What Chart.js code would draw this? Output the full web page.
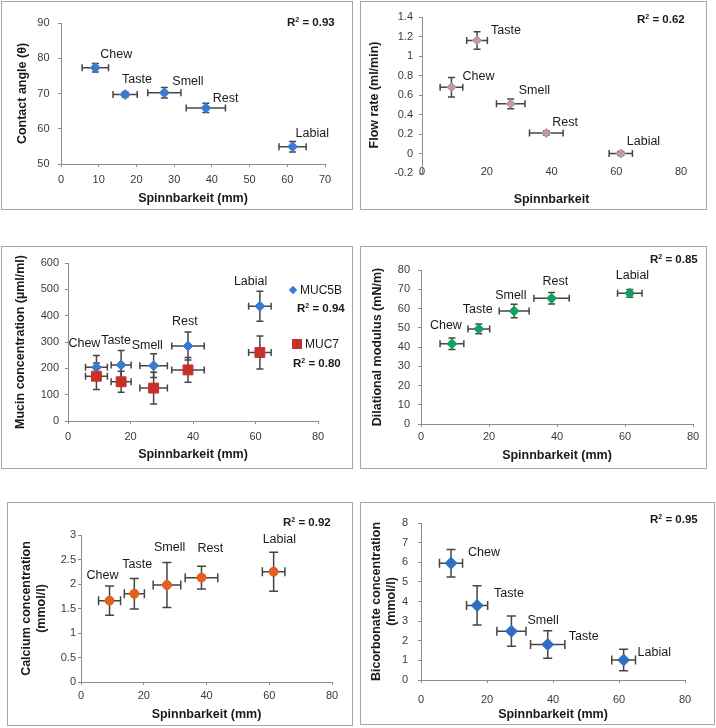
<!DOCTYPE html>
<html>
<head>
<meta charset="utf-8">
<script src="https://cdn.jsdelivr.net/npm/chart.js@4.4.0/dist/chart.umd.min.js"></script>
<style>
  body { margin: 0; background: #fff; font-family: "Liberation Sans", Arial, sans-serif; }
  #page { position: relative; width: 716px; height: 728px; overflow: hidden; }
  .panel { position: absolute; border: 1px solid #a6a6a6; box-sizing: border-box; }
  .panel canvas { position: absolute; left: 0; top: 0; }
  .note { position: absolute; font-weight: bold; font-size: 11.5px; line-height: 14px; color: #1a1a1a; white-space: nowrap; }
  .note sup { font-size: 7px; line-height: 0; vertical-align: 4px; }
  .leg { position: absolute; font-size: 12px; line-height: 14px; color: #1a1a1a; white-space: nowrap; }
  .mark { position: absolute; }
</style>
</head>
<body>
<div id="page"></div>
<script>
// 공통 x축: Spinnbarkeit (mm)
const spinn = [9.1, 17.0, 27.4, 38.4, 61.4];
const spinnErr = [3.5, 3.2, 4.4, 5.2, 3.6];
const names = ['Chew', 'Taste', 'Smell', 'Rest', 'Labial'];
const namesBicarb = ['Chew', 'Taste', 'Smell', 'Taste', 'Labial'];

// 패널별 y값 / 오차
const contactAngle = [77.3, 69.7, 70.2, 65.9, 54.9];
const contactAngleErr = [1.2, 0.7, 1.5, 1.3, 1.5];
const flowRate = [0.68, 1.16, 0.51, 0.21, 0.0];
const flowRateErr = [0.10, 0.09, 0.05, 0.02, 0.02];
const muc5b = [204, 213, 210, 285, 436];
const muc5bErr = [45, 55, 45, 53, 57];
const muc7 = [170, 149, 125, 194, 260];
const muc7Err = [50, 40, 60, 47, 63];
const dilational = [41.7, 49.4, 58.7, 65.3, 67.9];
const dilationalErr = [3.0, 2.5, 3.5, 3.0, 2.0];
const calcium = [1.66, 1.80, 1.98, 2.13, 2.25];
const calciumErr = [0.30, 0.31, 0.46, 0.23, 0.40];
const bicarb = [5.95, 3.80, 2.49, 1.81, 1.02];
const bicarbErr = [0.70, 1.00, 0.77, 0.70, 0.55];

// R² 텍스트
const r2 = { angle: '0.93', flow: '0.62', muc5b: '0.94', muc7: '0.80', dil: '0.85', ca: '0.92', bic: '0.95' };

const FONT = "'Liberation Sans', Arial, sans-serif";
Chart.defaults.font.family = FONT;
const AXIS = '#8c8c8c';

function pts(ys) {
    return ys.map((y, i) => ({ x: spinn[i], y: y }));
}

// 오차 막대 그리기
const errorBars = {
    id: 'errorBars',
    beforeDatasetsDraw(chart) {
        const ctx = chart.ctx;
        const xs = chart.scales.x, ys = chart.scales.y;
        chart.data.datasets.forEach(ds => {
            const cap = ds.cap || 3.5;
            ctx.save();
            ctx.strokeStyle = '#454545';
            ctx.lineWidth = 1.5;
            ds.data.forEach((p, i) => {
                const px = xs.getPixelForValue(p.x), py = ys.getPixelForValue(p.y);
                const xa = xs.getPixelForValue(p.x - ds.errX[i]), xb = xs.getPixelForValue(p.x + ds.errX[i]);
                const ya = ys.getPixelForValue(p.y - ds.errY[i]), yb = ys.getPixelForValue(p.y + ds.errY[i]);
                ctx.beginPath();
                ctx.moveTo(xa, py); ctx.lineTo(xb, py);
                ctx.moveTo(xa, py - cap); ctx.lineTo(xa, py + cap);
                ctx.moveTo(xb, py - cap); ctx.lineTo(xb, py + cap);
                ctx.moveTo(px, ya); ctx.lineTo(px, yb);
                ctx.moveTo(px - cap, ya); ctx.lineTo(px + cap, ya);
                ctx.moveTo(px - cap, yb); ctx.lineTo(px + cap, yb);
                ctx.stroke();
            });
            ctx.restore();
        });
    }
};

// 점 이름 라벨
const pointNames = {
    id: 'pointNames',
    afterDatasetsDraw(chart) {
        const ctx = chart.ctx;
        const xs = chart.scales.x, ys = chart.scales.y;
        chart.data.datasets.forEach(ds => {
            if (!ds.names) return;
            ctx.save();
            ctx.font = '12.5px ' + FONT;
            ctx.fillStyle = '#1a1a1a';
            ctx.textAlign = 'left';
            ctx.textBaseline = 'middle';
            ds.data.forEach((p, i) => {
                const off = ds.nameOffsets[i];
                ctx.fillText(ds.names[i], xs.getPixelForValue(p.x) + off[0], ys.getPixelForValue(p.y) + off[1]);
            });
            ctx.restore();
        });
    }
};

function series(ys, err, style, extra) {
    return Object.assign({
        data: pts(ys),
        errX: spinnErr,
        errY: err,
        cap: style.cap,
        pointStyle: style.shape,
        pointRadius: style.r,
        pointHoverRadius: style.r,
        backgroundColor: style.fill,
        borderColor: style.line || style.fill,
        borderWidth: style.lw || 1
    }, extra || {});
}

const panels = [
    {
        box: [1, 1, 352, 209], plot: [61, 23, 325, 164],
        x: { min: 0, max: 70, step: 10, pad: 6.4, title: 'Spinnbarkeit (mm)', titleY: 199 },
        y: { min: 50, max: 90, step: 10, pad: 8.5, title: 'Contact angle (θ)', titleX: 23 },
        datasets: [series(contactAngle, contactAngleErr, { shape: 'rectRot', r: 5, fill: '#3a7bd0' },
            { names: names, nameOffsets: [[5, -13], [-3, -15], [8, -11], [7, -9], [3, -13]] })]
    },
    {
        box: [360, 1, 347, 209], plot: [422, 17, 681, 173], zeroLine: true,
        x: { min: 0, max: 80, step: 20, pad: -5.6, mirror: true, title: 'Spinnbarkeit', titleY: 200 },
        y: { min: -0.2, max: 1.4, step: 0.2, pad: 6, title: 'Flow rate (ml/min)', titleX: 375, dec: true },
        datasets: [series(flowRate, flowRateErr, { shape: 'rectRot', r: 4.5, fill: '#d4939b', line: '#8a98b4' },
            { names: names, nameOffsets: [[11, -11], [14, -10], [8, -13], [6, -10], [6, -12]] })]
    },
    {
        box: [1, 246, 352, 223], plot: [68, 263, 318, 421],
        x: { min: 0, max: 80, step: 20, pad: 6.4, title: 'Spinnbarkeit (mm)', titleY: 455 },
        y: { min: 0, max: 600, step: 100, pad: 6, title: 'Mucin concentration (µml/ml)', titleX: 21 },
        datasets: [
            series(muc7, muc7Err, { shape: 'rect', r: 7, fill: '#c8302a' }),
            series(muc5b, muc5bErr, { shape: 'rectRot', r: 5, fill: '#3a7bd0' },
                { names: names, nameOffsets: [[-28, -24], [-20, -24], [-22, -20], [-16, -24], [-26, -25]] })
        ]
    },
    {
        box: [360, 246, 347, 223], plot: [421, 270, 693, 424],
        x: { min: 0, max: 80, step: 20, pad: 3.4, title: 'Spinnbarkeit (mm)', titleY: 456 },
        y: { min: 0, max: 80, step: 10, pad: 8, title: 'Dilational modulus (mN/m)', titleX: 378 },
        datasets: [series(dilational, dilationalErr, { shape: 'rectRot', r: 5, fill: '#14a062' },
            { names: names, nameOffsets: [[-22, -18], [-16, -19], [-19, -15], [-9, -17], [-14, -18]] })]
    },
    {
        box: [7, 502, 346, 224], plot: [81, 535, 332, 682],
        x: { min: 0, max: 80, step: 20, pad: 4.4, title: 'Spinnbarkeit (mm)', titleY: 715 },
        y: { min: 0, max: 3, step: 0.5, pad: 2, title: ['Calcium concentration', '(mmol/l)'], titleX: 27, dec: true },
        datasets: [series(calcium, calciumErr, { shape: 'circle', r: 4.5, fill: '#e2601a', cap: 4.5 },
            { names: names, nameOffsets: [[-23, -25], [-12, -29], [-13, -37], [-4, -29], [-11, -32]] })]
    },
    {
        box: [360, 502, 355, 223], plot: [421, 523, 685, 680],
        x: { min: 0, max: 80, step: 20, pad: 10.4, title: 'Spinnbarkeit (mm)', titleY: 715 },
        y: { min: 0, max: 8, step: 1, pad: 10, title: ['Bicorbonate concentration', '(mmol/l)'], titleX: 377 },
        datasets: [series(bicarb, bicarbErr, { shape: 'rectRot', r: 6, fill: '#2f6fc2', cap: 4.5 },
            { names: namesBicarb, nameOffsets: [[17, -11], [17, -12], [16, -11], [21, -8], [14, -7]] })]
    }
];

const page = document.getElementById('page');
const TITLE_LH = 15;

function makePanel(p) {
    const div = document.createElement('div');
    div.className = 'panel';
    div.style.left = p.box[0] + 'px';
    div.style.top = p.box[1] + 'px';
    div.style.width = p.box[2] + 'px';
    div.style.height = p.box[3] + 'px';
    const cv = document.createElement('canvas');
    const cw = p.box[2] - 2, ch = p.box[3] - 2;
    const cx = p.box[0] + 1, cy = p.box[1] + 1;
    cv.width = cw; cv.height = ch;
    cv.style.width = cw + 'px'; cv.style.height = ch + 'px';
    div.appendChild(cv);
    page.appendChild(div);

    const yW = p.plot[0] - cx;
    const xH = cy + ch - p.plot[3];
    const titleFont = { size: 12.5, weight: 'bold', lineHeight: 1.2 };
    const tickFont = { size: 11 };
    const decFmt = v => String(+v.toFixed(1));

    new Chart(cv, {
        type: 'scatter',
        data: { datasets: p.datasets },
        options: {
            responsive: false,
            animation: false,
            devicePixelRatio: 1,
            events: [],
            layout: { padding: { left: 0, top: p.plot[1] - cy, right: cx + cw - p.plot[2], bottom: 0 } },
            plugins: { legend: { display: false }, tooltip: { enabled: false } },
            scales: {
                x: {
                    type: 'linear', min: p.x.min, max: p.x.max,
                    ticks: { stepSize: p.x.step, padding: p.x.pad, mirror: !!p.x.mirror, font: tickFont, color: '#3a3a3a', maxRotation: 0 },
                    grid: { display: !p.zeroLine, drawOnChartArea: false, tickLength: 3, color: AXIS },
                    border: { display: !p.zeroLine, color: AXIS, width: 1 },
                    title: {
                        display: true, text: p.x.title, color: '#1a1a1a', font: titleFont,
                        padding: { top: 0, bottom: ch - (p.x.titleY - cy) - TITLE_LH / 2 }
                    },
                    afterFit: s => { s.height = xH; }
                },
                y: {
                    type: 'linear', min: p.y.min, max: p.y.max,
                    ticks: {
                        stepSize: p.y.step, padding: p.y.pad, font: tickFont, color: '#3a3a3a',
                        callback: p.y.dec ? decFmt : undefined
                    },
                    grid: {
                        drawOnChartArea: !!p.zeroLine, tickLength: 3, tickColor: AXIS,
                        color: c => (p.zeroLine && c.tick && c.tick.value === 0) ? AXIS : (p.zeroLine ? 'rgba(0,0,0,0)' : AXIS)
                    },
                    border: { color: AXIS, width: 1 },
                    title: {
                        display: true, text: p.y.title, color: '#1a1a1a', font: titleFont,
                        padding: { top: (p.y.titleX - cx) - TITLE_LH / 2, bottom: 0 }
                    },
                    afterFit: s => { s.width = yW; }
                }
            }
        },
        plugins: [errorBars, pointNames]
    });
}

panels.forEach(makePanel);

// R² 표시
function note(html, left, cyv, cls) {
    const d = document.createElement('div');
    d.className = cls || 'note';
    d.innerHTML = html;
    d.style.left = left + 'px';
    d.style.top = (cyv - 7) + 'px';
    page.appendChild(d);
}
function r2html(v) { return 'R<sup>2</sup> = ' + v; }
note(r2html(r2.angle), 287, 22);
note(r2html(r2.flow), 637, 19);
note(r2html(r2.muc5b), 297, 308);
note(r2html(r2.muc7), 293, 363);
note(r2html(r2.dil), 650, 259);
note(r2html(r2.ca), 283, 522);
note(r2html(r2.bic), 650, 519);

// MUC5B / MUC7 범례
note('MUC5B', 300, 290, 'leg');
note('MUC7', 305, 344, 'leg');
function mark(x, y, size, color, rot) {
    const m = document.createElement('div');
    m.className = 'mark';
    m.style.left = (x - size / 2) + 'px';
    m.style.top = (y - size / 2) + 'px';
    m.style.width = size + 'px';
    m.style.height = size + 'px';
    m.style.background = color;
    if (rot) m.style.transform = 'rotate(45deg)';
    page.appendChild(m);
}
mark(293, 290, 6, '#3a7bd0', true);
mark(297, 344, 10, '#c8302a', false);
</script>
</body>
</html>
